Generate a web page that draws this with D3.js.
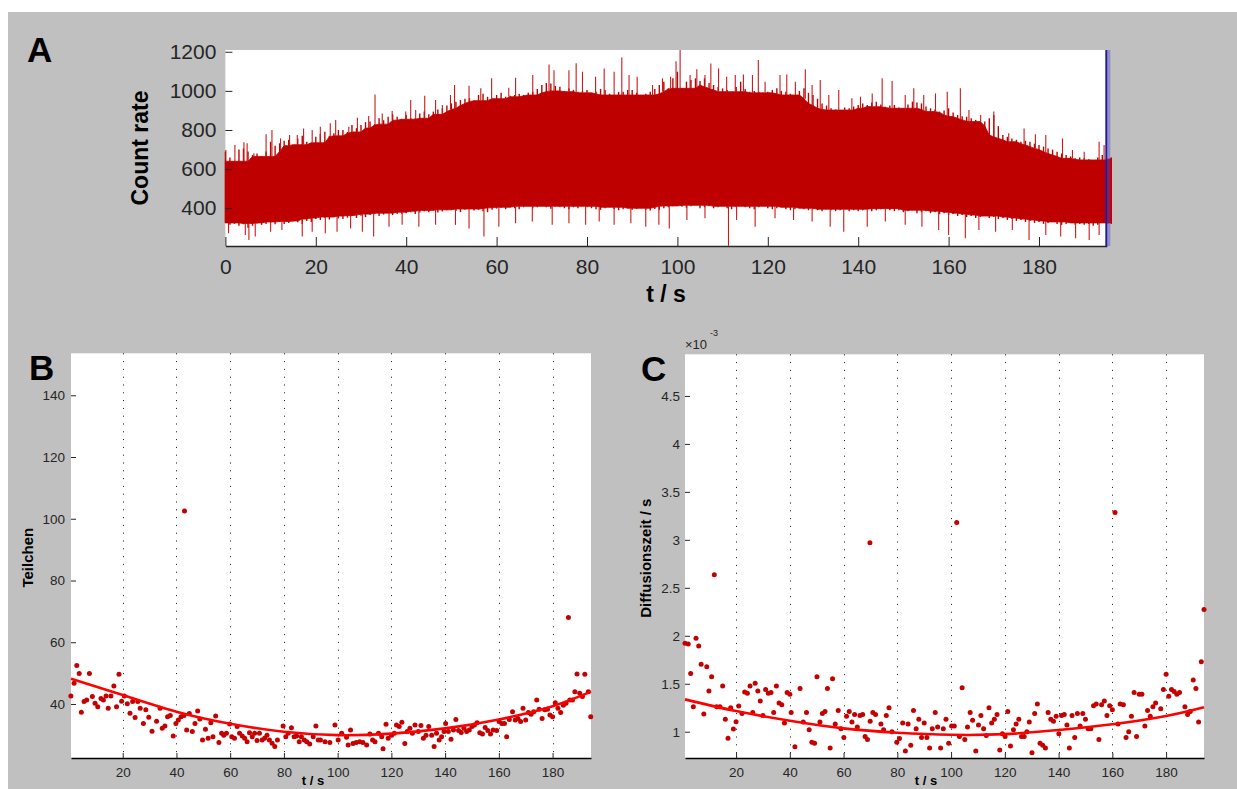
<!DOCTYPE html>
<html>
<head>
<meta charset="utf-8">
<script src="https://cdn.jsdelivr.net/npm/d3@7"></script>
<style>
  body { margin: 0; background: #fff; }
  svg { display: block; }
  text { font-family: Arial, "Liberation Sans", Helvetica, sans-serif; }
</style>
</head>
<body>
<svg id="fig" width="1237" height="789"></svg>
<script>
// ---------- Panel A: count rate trace (one envelope value per second, t = 0..196 s) ----------
const rateTop = [
  690,660,640,700,705,690,672,680,665,690,
  740,720,732,745,750,725,757,770,740,735,
  766,780,791,770,783,800,800,790,825,810,
  825,840,843,830,860,850,868,880,868,855,
  877,860,860,885,894,880,894,905,911,925,
  936,945,953,960,962,950,979,985,970,960,
  979,990,970,975,979,985,979,990,996,1010,
  1030,1040,1038,1025,1021,1000,1013,1005,996,1000,
  1004,990,996,1010,1004,985,979,995,996,1005,
  1004,990,979,985,996,1010,1030,1047,1013,1064,
  1098,1013,1047,1055,1064,1050,1064,1040,1030,1020,
  1013,1005,996,1020,1047,1010,996,1000,996,990,
  996,1005,1013,1000,996,985,979,1000,1013,990,
  979,960,936,925,911,905,902,915,911,920,
  928,935,928,940,945,930,919,925,928,915,
  911,930,945,940,936,920,911,905,894,900,
  911,890,877,870,868,860,851,845,843,860,
  877,820,774,765,757,750,740,745,740,730,
  723,715,706,700,689,680,672,665,655,660,
  655,650,647,660,672,655,660
];
const rateBottom = [
  325,315,320,310,318,300,310,322,315,320,
  325,318,330,320,325,332,328,320,335,330,
  345,340,350,342,355,348,345,352,360,350,
  362,355,365,370,360,368,375,365,370,372,
  375,380,370,378,385,380,388,378,384,390,
  392,386,380,392,396,388,392,385,380,392,
  398,402,395,405,400,395,405,410,400,405,
  410,405,398,410,405,400,395,405,400,410,
  405,400,395,392,400,405,396,390,395,400,
  392,396,400,392,388,396,392,400,405,410,
  412,408,402,410,415,400,405,410,400,405,
  410,400,395,405,410,405,400,395,405,410,
  400,395,400,405,395,390,395,400,395,390,
  395,390,385,395,390,385,390,395,385,390,
  385,390,395,385,390,395,398,390,385,390,
  380,385,390,375,380,385,375,380,370,375,
  365,370,360,365,355,360,350,355,360,350,
  355,345,350,340,345,335,340,330,335,325,
  330,320,325,330,320,315,320,325,315,320,
  315,320,310,315,325,320,320
];
// single-sample excursions above / below the band: [t (s), count rate]
const ratePeaksUp = [
  [0.1,698],[2.1,723],[4.1,737],[4.8,732],[6.3,681],[9.0,778],[10.3,800],[12.2,757],[14.2,774],[15.9,774],
  [17.3,808],[19.2,800],[21.0,817],[23.2,834],[24.4,851],[27.3,817],[29.2,863],[31.7,871],[33.1,982],[34.7,885],
  [36.9,897],[39.9,894],[41.0,953],[42.1,902],[44.1,975],[46.5,953],[48.0,928],[49.8,979],[50.7,1030],[53.9,1026],
  [56.5,1013],[58.9,1064],[62.7,1016],[64.2,1067],[68.0,1081],[71.6,1135],[72.7,1106],[76.0,1106],[77.6,1141],[79.0,1098],
  [81.9,1072],[83.8,1115],[86.0,1098],[87.7,1171],[89.3,1081],[91.1,1072],[94.5,1030],[96.7,1064],[98.5,1072],[99.7,1152],
  [100.6,1209],[102.8,1081],[104.3,1111],[106.1,1081],[107.4,1140],[109.1,1115],[110.9,1072],[112.8,1081],[114.6,1084],[116.6,1081],
  [117.9,1158],[119.4,1047],[122.7,1081],[124.2,1084],[126.1,1047],[128.3,1111],[129.8,1030],[131.6,1055],[133.5,979],[135.7,1004],
  [138.6,962],[140.5,970],[143.1,987],[145.3,1064],[147.5,1050],[150.4,979],[152.3,1013],[154.5,979],[157.1,987],[159.7,996],
  [162.6,1013],[164.5,902],[167.1,877],[170.0,894],[173.3,783],[176.7,808],[179.2,778],[181.5,774],[185.2,757],[187.4,698],
  [190.0,689],[193.3,740],[194.4,723]
];
const ratePeaksDown = [
  [0.7,272],[4.4,263],[5.2,238],[6.6,255],[10.0,280],[12.5,289],[17.0,255],[19.2,280],[22.1,272],[24.7,280],
  [27.7,297],[30.3,280],[32.8,255],[36.2,306],[39.1,315],[42.8,306],[46.5,315],[50.9,315],[53.9,297],[57.2,255],
  [60.5,306],[64.2,323],[67.9,332],[72.3,315],[76.0,323],[79.7,315],[82.7,332],[86.0,315],[89.7,323],[93.0,306],
  [95.9,315],[98.2,297],[102.1,340],[106.1,349],[111.3,208],[113.1,340],[117.2,306],[121.6,349],[125.7,340],[129.8,332],
  [133.8,306],[136.8,280],[142.0,306],[146.0,332],[150.4,315],[154.1,306],[157.8,289],[160.0,263],[163.7,246],[166.7,289],
  [170.4,280],[174.1,289],[177.8,238],[181.5,263],[184.8,255],[188.1,246],[191.1,238],[193.3,263]
];
const rateCursor = 195;
const rateTicksX = [0,20,40,60,80,100,120,140,160,180];
const rateTicksY = [400,600,800,1000,1200];

// ---------- Panel B: particle number per time slice ----------
const tB = [
  0.7,1.9,2.9,3.8,4.6,5.6,6.6,7.6,8.7,9.7,
  10.7,11.9,12.8,13.8,14.6,15.6,16.7,17.7,18.6,19.6,
  20.6,21.7,22.7,23.7,24.6,25.6,26.5,27.7,28.6,29.7,
  30.9,32.6,33.9,34.7,35.7,36.7,37.7,38.8,39.8,40.7,
  41.7,42.8,43.0,43.8,44.8,45.9,46.9,47.9,48.7,49.7,
  50.8,51.8,52.8,53.6,54.6,55.8,56.8,57.6,58.6,59.8,
  60.6,61.6,62.6,63.5,64.5,65.4,66.3,67.2,68.2,69.1,
  70.0,70.9,71.9,72.8,73.7,74.6,75.6,76.6,77.6,79.7,
  80.7,81.6,82.8,83.8,84.7,85.7,86.5,87.6,88.5,89.6,
  90.9,91.9,92.8,93.6,95.3,97.1,99.0,100.2,101.5,103.3,
  103.9,104.8,105.7,106.9,108.2,109.4,110.8,112.0,113.0,113.9,
  115.2,116.4,116.9,118.0,118.8,120.1,121.1,121.9,122.9,123.9,
  125.0,125.9,126.9,127.8,128.8,130.0,131.0,131.9,132.9,133.9,
  135.0,135.9,136.8,137.8,138.7,139.6,140.2,141.2,142.2,143.1,
  144.0,145.0,146.0,147.0,148.0,149.0,150.0,150.9,151.9,152.9,
  153.9,154.9,155.9,156.9,157.9,159.2,160.1,161.1,162.1,162.9,
  163.9,165.1,166.1,167.1,168.1,169.0,170.0,171.0,172.0,173.0,
  174.1,175.0,176.1,177.1,178.1,179.0,180.0,181.0,182.0,183.0,
  184.0,185.0,185.9,186.4,187.4,188.3,189.1,190.1,191.1,192.0,
  193.3,194.2
];
const particlesB = [
  42.6,46.7,52.5,49.9,37.3,40.8,41.3,49.9,42.4,40.2,
  39.1,41.8,41.3,42.6,38.6,42.6,45.8,39.1,49.6,40.9,
  42.6,40.1,37.0,40.8,35.6,40.8,38.6,33.7,38.1,35.7,
  31.2,34.4,38.6,32.1,32.9,35.9,36.3,29.6,33.7,34.8,
  35.9,36.3,102.5,31.6,36.9,31.1,33.7,37.7,35.1,28.3,
  31.8,28.9,33.9,29.4,36.1,27.5,30.5,29.9,30.5,33.5,
  29.4,28.9,32.7,30.5,29.6,28.9,27.8,30.7,29.4,30.5,
  28.2,30.5,28.3,28.9,29.9,28.3,27.3,26.2,28.3,32.9,
  29.4,30.5,32.3,29.4,29.6,27.8,29.4,28.3,27.8,27.0,
  29.4,32.9,28.3,28.3,27.8,27.5,33.2,28.3,30.5,29.2,
  26.7,31.6,27.2,27.5,27.8,27.5,26.7,30.3,28.3,27.8,
  30.5,29.4,25.5,33.4,28.9,29.9,30.5,33.2,32.7,34.1,
  27.2,31.1,32.1,30.5,33.2,31.1,33.0,28.9,29.9,32.7,
  29.9,26.2,30.5,28.3,29.4,31.1,33.7,31.1,28.6,31.6,
  35.0,31.4,30.8,32.1,31.1,31.6,32.7,33.2,33.9,30.7,
  30.3,32.4,31.4,30.3,31.6,31.4,34.3,33.7,33.7,29.4,
  35.0,37.5,34.8,35.3,34.3,38.6,34.8,37.2,36.7,37.5,
  41.3,38.3,35.3,38.1,38.3,36.4,35.9,40.4,38.6,37.2,
  39.6,40.2,68.0,41.3,41.3,44.0,49.7,43.5,42.4,49.6,
  44.0,35.9
];
// quadratic trend through the particle numbers
const fitTB = [0.75,20,40,60,80,100,120,140,160,180,194.3];
const fitNB = [48.2,42.9,37.5,33.6,31.0,29.9,30.4,32.1,35.0,39.3,44.0];
const ticksXB = [20,40,60,80,100,120,140,160,180];
const ticksYB = [40,60,80,100,120,140];

// ---------- Panel C: diffusion time per time slice (units of 1e-3 s) ----------
const tC = [
  1.0,2.2,3.1,4.1,5.1,6.1,7.0,8.0,9.1,9.9,
  10.9,11.9,12.8,14.0,15.0,16.0,17.0,18.0,19.0,20.0,
  21.0,22.2,23.2,24.2,25.2,26.2,27.1,28.1,29.0,30.0,
  31.0,32.0,33.0,34.0,35.0,36.0,37.0,38.0,39.0,40.0,
  40.5,41.9,43.8,45.0,46.2,47.2,48.2,49.2,50.1,51.2,
  52.1,53.1,54.0,55.0,55.9,56.9,58.0,59.0,60.1,61.1,
  62.1,63.1,64.1,65.1,66.1,67.1,68.0,68.9,69.8,69.9,
  70.9,71.9,73.9,74.9,75.9,76.9,78.0,79.8,80.8,82.0,
  83.0,84.0,85.0,86.0,87.0,88.0,89.0,90.0,91.0,92.0,
  93.0,94.1,95.0,96.1,97.1,98.1,99.1,100.2,101.2,102.1,
  103.1,104.1,105.1,106.1,107.1,108.0,109.2,110.2,111.1,112.1,
  113.1,114.1,115.1,116.1,117.1,118.1,119.1,120.1,121.1,122.1,
  123.2,124.2,125.2,126.2,127.2,128.2,129.1,130.1,131.1,132.1,
  133.1,134.1,135.1,136.1,137.1,138.1,139.1,140.1,141.1,142.1,
  143.1,144.0,145.0,146.0,147.0,148.0,149.0,150.0,151.0,152.0,
  153.0,154.0,155.0,156.0,157.0,158.0,159.0,160.0,161.0,162.1,
  162.9,164.1,165.1,166.1,167.1,168.1,169.0,170.0,171.0,172.1,
  173.1,174.1,175.1,176.1,178.0,179.0,180.0,181.0,182.0,183.0,
  184.0,185.0,187.0,188.0,189.0,190.1,191.1,192.1,193.1,194.1
];
const diffusionC = [
  1.921,1.913,1.608,1.26,1.973,1.893,1.702,1.184,1.677,1.424,
  1.573,2.635,1.26,1.26,1.476,1.129,0.931,1.25,1.028,1.104,
  1.268,1.19,1.414,1.40,1.476,1.20,1.504,1.424,1.32,1.17,
  1.44,1.40,1.41,1.20,1.476,1.30,1.28,1.09,1.41,1.39,
  1.20,0.844,1.45,1.10,1.20,1.02,0.89,0.88,1.573,1.10,
  1.19,1.21,1.45,0.83,1.553,1.08,1.22,1.03,0.94,1.16,
  1.21,1.10,1.18,1.05,1.17,1.18,0.95,0.92,2.969,1.11,
  1.20,1.18,1.08,1.02,1.17,1.25,1.00,0.889,0.93,1.09,
  0.80,1.08,0.86,1.22,1.03,1.13,0.94,1.09,0.94,0.83,
  1.03,1.20,1.05,0.83,1.03,1.13,0.88,1.06,1.06,3.181,
  0.95,1.458,0.92,1.05,1.20,1.12,0.80,1.07,1.17,1.03,
  0.96,1.25,1.09,1.13,1.18,0.81,0.98,0.95,1.21,0.85,
  1.02,1.08,1.13,0.95,0.95,1.00,1.10,0.78,1.19,1.29,
  0.88,0.86,0.83,1.20,1.13,1.11,1.16,0.98,1.17,1.18,
  1.07,0.83,1.17,0.94,1.19,1.06,1.19,1.13,1.03,1.03,
  1.27,1.29,0.92,1.28,1.32,1.17,1.27,1.23,3.285,1.08,
  1.29,1.28,0.94,1.00,1.16,1.41,0.95,1.39,1.39,1.06,
  1.22,1.16,1.26,1.30,1.24,1.44,1.60,1.37,1.44,1.42,
  1.39,1.41,1.26,1.18,1.21,1.54,1.45,1.10,1.73,2.275
];
const fitTC = [1,20,40,60,80,100,120,140,160,180,194.1];
const fitDC = [1.337,1.215,1.115,1.035,0.99,0.968,0.975,1.018,1.077,1.163,1.254];
const ticksXC = [20,40,60,80,100,120,140,160,180];
const ticksYC = [1,1.5,2,2.5,3,3.5,4,4.5];

// ---------- drawing ----------
const svg = d3.select("#fig");
const INK = "#262626";
const RED = "#bf0000";

svg.append("rect").attr("width", 1237).attr("height", 789).attr("fill", "#fff");
svg.append("rect").attr("x", 8).attr("y", 12).attr("width", 1229).attr("height", 777).attr("fill", "#c0c0c0");

function styleAxis(g, size) {
  g.selectAll(".tick line").attr("stroke", INK);
  g.selectAll(".tick text").attr("fill", INK).style("font-size", size + "px").attr("font-family", null);
}

function panelLetter(txt, x, y) {
  svg.append("text").attr("x", x).attr("y", y).text(txt)
    .style("font-size", "35px").style("font-weight", "bold").attr("fill", "#000");
}

// ---- Panel A ----
(function () {
  const L = 225.4, R = 1106.8, T = 50, B = 246;
  const x = d3.scaleLinear().domain([0, 195]).range([L, R]);
  const y = d3.scaleLinear().domain([207, 1209]).range([B, T]);

  svg.append("rect").attr("x", L).attr("y", T).attr("width", R - L).attr("height", B - T).attr("fill", "#fff");

  // solid core of the trace: the band every sample in a +-3 s window covers
  const n = rateTop.length;
  const win = (arr, i, f) => f(arr.slice(Math.max(0, i - 3), Math.min(n, i + 4)));
  const band = rateTop.map((hi, i) => ({
    t: i, hi, lo: rateBottom[i],
    coreHi: win(rateTop, i, d3.min), coreLo: win(rateBottom, i, d3.max)
  }));
  const area = d3.area().x(d => x(d.t)).y0(d => y(d.coreLo)).y1(d => y(d.coreHi));
  svg.append("path").datum(band).attr("d", area).attr("fill", RED)
    .attr("stroke", RED).attr("stroke-width", 0.8);

  // per-second extremes as thin columns on both edges
  svg.append("g").attr("stroke", RED).attr("stroke-width", 1.4)
    .selectAll("line").data(band).join("line")
    .attr("x1", d => x(d.t)).attr("x2", d => x(d.t))
    .attr("y1", d => y(d.lo)).attr("y2", d => y(d.hi));

  // single-sample excursions
  const edgeAt = (t, up) => { const d = band[Math.min(n - 1, Math.round(t))]; return up ? d.coreHi : d.coreLo; };
  svg.append("g").attr("stroke", "#c81a1a").attr("stroke-width", 1.1)
    .selectAll("line").data(ratePeaksUp.map(d => [...d, true]).concat(ratePeaksDown.map(d => [...d, false])))
    .join("line")
    .attr("x1", d => x(d[0])).attr("x2", d => x(d[0]))
    .attr("y1", d => y(edgeAt(d[0], d[2]))).attr("y2", d => y(d[1]));

  // cursor marking the end of the evaluated range
  svg.append("rect").attr("x", x(rateCursor) - 1.5).attr("y", T).attr("width", 5).attr("height", B - T)
    .attr("fill", "rgba(70,70,210,0.4)");
  svg.append("line").attr("x1", x(rateCursor) - 0.5).attr("x2", x(rateCursor) - 0.5).attr("y1", T).attr("y2", B)
    .attr("stroke", "#1e1e9c").attr("stroke-width", 1.8);

  const gx = svg.append("g").attr("transform", `translate(0,${B})`)
    .call(d3.axisBottom(x).tickValues(rateTicksX).tickSizeInner(-9).tickSizeOuter(0).tickPadding(13));
  gx.select(".domain").attr("stroke", INK).attr("stroke-width", 1.6);
  styleAxis(gx, 21);

  const gy = svg.append("g").attr("transform", `translate(${L},0)`)
    .call(d3.axisLeft(y).tickValues(rateTicksY).tickFormat(d3.format("d"))
      .tickSizeInner(-7).tickSizeOuter(0).tickPadding(9));
  gy.select(".domain").remove();
  styleAxis(gy, 21);

  svg.append("text").attr("transform", `translate(140,${(T + B) / 2}) rotate(-90)`)
    .attr("text-anchor", "middle").attr("dy", "0.35em").text("Count rate")
    .style("font-size", "23px").style("font-weight", "bold").attr("fill", "#000");
  svg.append("text").attr("x", (L + R) / 2).attr("y", 302).attr("text-anchor", "middle").text("t / s")
    .style("font-size", "23px").style("font-weight", "bold").attr("fill", "#000");

  panelLetter("A", 27, 62);
})();

// ---- Panels B and C (scatter with trend) ----
function scatterPanel(cfg) {
  const { L, R, T, B } = cfg;
  const x = d3.scaleLinear().domain(cfg.xDomain).range([L, R]);
  const y = d3.scaleLinear().domain(cfg.yDomain).range([B, T]);

  svg.append("rect").attr("x", L).attr("y", T).attr("width", R - L).attr("height", B - T).attr("fill", "#fff");

  svg.append("g").selectAll("line").data(cfg.ticksX).join("line")
    .attr("x1", d => Math.round(x(d)) + 0.5).attr("x2", d => Math.round(x(d)) + 0.5)
    .attr("y1", T).attr("y2", B)
    .attr("stroke", "#111").attr("stroke-width", 1).attr("stroke-dasharray", "1,6.8");

  const pts = cfg.t.map((t, i) => [t, cfg.v[i]]);
  svg.append("g").selectAll("circle").data(pts).join("circle")
    .attr("cx", d => x(d[0])).attr("cy", d => y(d[1])).attr("r", 2.5)
    .attr("fill", "#c40000");

  const fit = cfg.fitT.map((t, i) => [t, cfg.fitV[i]]);
  svg.append("path").datum(fit)
    .attr("d", d3.line().x(d => x(d[0])).y(d => y(d[1])).curve(d3.curveNatural))
    .attr("fill", "none").attr("stroke", "#ff0000").attr("stroke-width", 2.6);

  const gx = svg.append("g").attr("transform", `translate(0,${B})`)
    .call(d3.axisBottom(x).tickValues(cfg.ticksX).tickSizeInner(-5).tickSizeOuter(0).tickPadding(9.5));
  gx.select(".domain").attr("stroke", "#000").attr("stroke-width", 1.3);
  styleAxis(gx, 13.5);

  const gy = svg.append("g").attr("transform", `translate(${L},0)`)
    .call(d3.axisLeft(y).tickValues(cfg.ticksY).tickSizeInner(-5).tickSizeOuter(0).tickPadding(cfg.padY)
      .tickFormat(d3.format("~g")));
  gy.select(".domain").remove();
  styleAxis(gy, 13.5);

  svg.append("text").attr("transform", `translate(${cfg.yLabelX},${(T + B) / 2 + 2}) rotate(-90)`)
    .attr("text-anchor", "middle").attr("dy", "0.35em").text(cfg.yLabel)
    .style("font-size", "15px").style("font-weight", "bold").attr("fill", "#000");
  // axis title sits in the gap left of the 100 s tick label, under the plot's centre
  svg.append("text").attr("x", cfg.xLabelX).attr("y", 785).attr("text-anchor", "middle").text("t / s")
    .style("font-size", "13px").style("font-weight", "bold").attr("fill", "#000");

  return { x, y };
}

scatterPanel({
  L: 71, R: 591, T: 353.3, B: 758,
  xDomain: [0.75, 194.3], yDomain: [22.5, 153.6],
  t: tB, v: particlesB, fitT: fitTB, fitV: fitNB,
  ticksX: ticksXB, ticksY: ticksYB, padY: 6,
  yLabel: "Teilchen", yLabelX: 27.5, xLabelX: 313
});
panelLetter("B", 29, 380);

scatterPanel({
  L: 685, R: 1204, T: 354.3, B: 758,
  xDomain: [1.0, 194.1], yDomain: [0.726, 4.934],
  t: tC, v: diffusionC, fitT: fitTC, fitV: fitDC,
  ticksX: ticksXC, ticksY: ticksYC, padY: 5,
  yLabel: "Diffusionszeit / s", yLabelX: 646, xLabelX: 926
});
panelLetter("C", 641, 381);

// exponent of the diffusion-time axis
svg.append("text").attr("x", 685).attr("y", 349).text("\u00d710")
  .style("font-size", "13px").attr("fill", INK);
svg.append("text").attr("x", 710).attr("y", 336).text("-3")
  .style("font-size", "9px").attr("fill", INK);
</script>
</body>
</html>
